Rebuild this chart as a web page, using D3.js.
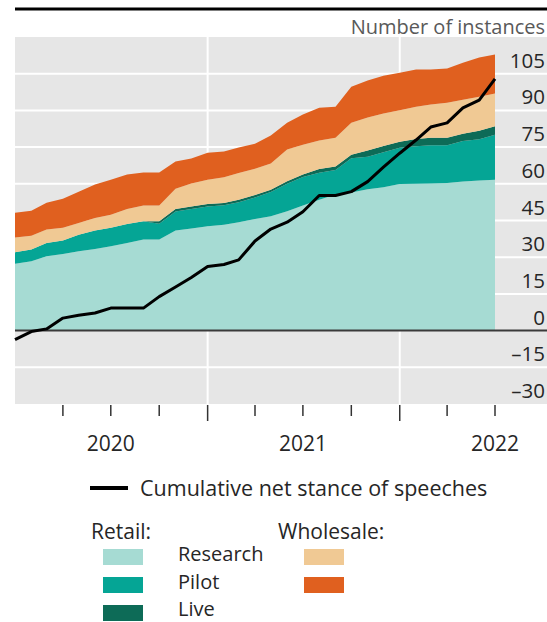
<!DOCTYPE html>
<html>
<head>
<meta charset="utf-8">
<script src="https://cdn.jsdelivr.net/npm/d3@7"></script>
<style>
  html, body { margin: 0; padding: 0; background: #fff; }
  svg { display: block; font-family: "Open Sans", "Noto Sans", sans-serif; }
</style>
</head>
<body>
<svg id="chart" width="547" height="622"></svg>
<script>
// ---- data (monthly, Jan 2020 – Jul 2022) ----
const months = ["2020-01","2020-02","2020-03","2020-04","2020-05","2020-06","2020-07","2020-08","2020-09","2020-10","2020-11","2020-12",
  "2021-01","2021-02","2021-03","2021-04","2021-05","2021-06","2021-07","2021-08","2021-09","2021-10","2021-11","2021-12",
  "2022-01","2022-02","2022-03","2022-04","2022-05","2022-06","2022-07"];
const retailResearch = [27.3,28.3,30.4,31.3,32.4,33.4,34.5,35.8,37.2,37.2,40.9,41.7,42.7,43.3,44.3,45.6,46.7,48.8,51.1,53.5,55.6,56.4,57.8,58.6,59.9,60.0,60.1,60.3,60.9,61.3,61.7];
const retailPilot    = [4.7,4.8,5.4,5.5,6.8,7.5,7.5,7.8,7.5,6.5,7.8,8.0,8.0,7.9,8.2,8.8,9.9,11.2,11.7,11.0,10.0,14.0,13.3,14.3,14.8,15.3,15.7,15.5,16.6,16.9,18.3];
const retailLive     = [0,0,0,0,0,0,0,0,0,1,1,1,1,1,1,1,1,1,1,1.5,1.5,1.5,2.5,2.5,2.5,3,3,3,3,3.5,3.5];
const wholesaleResearch = [6.1,5.7,5.5,5.2,4.8,5.1,5.4,6.1,6.4,6.4,8.3,9.4,10.0,10.5,10.9,10.8,10.7,13.0,12.2,11.7,11.7,13.1,13.5,13.3,12.9,13.2,13.6,14.3,13.9,13.9,13.4];
const wholesalePilot    = [10.1,10.2,11.0,11.9,12.8,13.7,14.3,14.1,13.5,13.5,11.1,10.2,11.0,10.5,10.4,10.2,11.4,11.0,12.3,13.4,12.7,14.7,15.1,15.5,15.3,15.2,14.3,14.0,15.1,16.0,15.9];
const netStance = [-3.7,-0.4,0.7,5.1,6.3,7.2,9.2,9.2,9.2,13.9,17.8,21.7,26.2,27.0,28.9,36.6,41.5,44.3,48.6,55.2,55.2,56.8,60.9,66.8,72.5,77.9,83.2,84.9,91.0,94.2,102.9];
const yTicks = [-30,-15,0,15,30,45,60,75,90,105];
const yearLabels = ["2020","2021","2022"];
const yearLabelDates = ["2020-07-01","2021-07-01","2022-07-01"];
const yearBoundaries = ["2021-01-01","2022-01-01"];
const quarterTicks = ["2020-04-01","2020-07-01","2020-10-01","2021-01-01","2021-04-01","2021-07-01","2021-10-01","2022-01-01","2022-04-01","2022-07-01"];
const seriesKeys = ["retailResearch","retailPilot","retailLive","wholesaleResearch","wholesalePilot"];
const seriesColors = ["#a6dbd3","#05a595","#0d6b57","#f0c994","#e0601f"];

// ---- build table ----
const parse = d3.timeParse("%Y-%m");
const parseDay = d3.timeParse("%Y-%m-%d");
const table = months.map((m, i) => ({
  date: parse(m),
  retailResearch: retailResearch[i],
  retailPilot: retailPilot[i],
  retailLive: retailLive[i],
  wholesaleResearch: wholesaleResearch[i],
  wholesalePilot: wholesalePilot[i],
  net: netStance[i]
}));

const svg = d3.select("#chart");
const plotL = 15, plotR = 495, bgR = 547, plotT = 37, plotB = 404;
const txt = "#262626";

const x = d3.scaleTime().domain([parseDay("2020-01-01"), parseDay("2022-07-01")]).range([plotL, plotR]);
const y = d3.scaleLinear().domain([-30, 120]).range([plotB, plotT]);

// background
svg.append("rect").attr("x", plotL).attr("y", plotT).attr("width", bgR - plotL).attr("height", plotB - plotT).attr("fill", "#e6e6e6");

// gridlines horizontal
svg.append("g").selectAll("line").data(yTicks.filter(v => v !== 0 && v !== -30)).join("line")
  .attr("x1", plotL).attr("x2", bgR).attr("y1", d => y(d)).attr("y2", d => y(d))
  .attr("stroke", "#fff").attr("stroke-width", 2);
// vertical year boundaries
svg.append("g").selectAll("line").data(yearBoundaries).join("line")
  .attr("x1", d => x(parseDay(d))).attr("x2", d => x(parseDay(d)))
  .attr("y1", plotT).attr("y2", plotB)
  .attr("stroke", "#fff").attr("stroke-width", 2);

// stacked areas
const stack = d3.stack().keys(seriesKeys);
const layers = stack(table);
const area = d3.area().x(d => x(d.data.date)).y0(d => y(d[0])).y1(d => y(d[1]));
svg.append("g").selectAll("path").data(layers).join("path")
  .attr("d", area).attr("fill", (d, i) => seriesColors[i]);

// zero line
svg.append("line").attr("x1", plotL).attr("x2", bgR).attr("y1", y(0)).attr("y2", y(0))
  .attr("stroke", "#3a3a3a").attr("stroke-width", 2);

// net stance line
const line = d3.line().x(d => x(d.date)).y(d => y(d.net));
svg.append("path").datum(table).attr("d", line)
  .attr("fill", "none").attr("stroke", "#000").attr("stroke-width", 3).attr("stroke-linejoin", "round");

// y labels
svg.append("g").selectAll("text").data(yTicks).join("text")
  .attr("x", 545).attr("y", d => y(d) - 6).attr("text-anchor", "end")
  .attr("font-size", 20.5).attr("fill", txt)
  .text(d => d < 0 ? "\u2013" + Math.abs(d) : d);

// unit label
svg.append("text").attr("x", 545).attr("y", 34).attr("text-anchor", "end")
  .attr("font-size", 20).attr("fill", "#595959").text("Number of instances");

// top rule
svg.append("line").attr("x1", 15).attr("x2", 547).attr("y1", 9).attr("y2", 9)
  .attr("stroke", "#000").attr("stroke-width", 3);

// x ticks
svg.append("g").selectAll("line").data(quarterTicks).join("line")
  .attr("x1", d => x(parseDay(d))).attr("x2", d => x(parseDay(d)))
  .attr("y1", plotB + 1)
  .attr("y2", d => yearBoundaries.includes(d) ? plotB + 17 : plotB + 12)
  .attr("stroke", "#333").attr("stroke-width", 1.5);

// year labels
svg.append("g").selectAll("text").data(yearLabels).join("text")
  .attr("x", (d, i) => x(parseDay(yearLabelDates[i]))).attr("y", 451)
  .attr("text-anchor", "middle").attr("font-size", 21).attr("fill", txt).text(d => d);

// legend
svg.append("line").attr("x1", 90).attr("x2", 128).attr("y1", 488).attr("y2", 488)
  .attr("stroke", "#000").attr("stroke-width", 4);
svg.append("text").attr("x", 140).attr("y", 496).attr("font-size", 21.5).attr("fill", txt)
  .text("Cumulative net stance of speeches");

svg.append("text").attr("x", 91).attr("y", 539).attr("font-size", 21).attr("fill", txt).text("Retail:");
svg.append("text").attr("x", 278).attr("y", 539).attr("font-size", 21).attr("fill", txt).text("Wholesale:");

const legRows = [
  {label: "Research", retail: seriesColors[0], wholesale: seriesColors[3]},
  {label: "Pilot", retail: seriesColors[1], wholesale: seriesColors[4]},
  {label: "Live", retail: seriesColors[2], wholesale: null}
];
const rowY = [557, 585, 613];
const labelBase = [561, 589, 616];
const lg = svg.append("g");
legRows.forEach((r, i) => {
  lg.append("rect").attr("x", 103).attr("y", rowY[i] - 8).attr("width", 40).attr("height", 16).attr("fill", r.retail);
  if (r.wholesale) lg.append("rect").attr("x", 304).attr("y", rowY[i] - 8).attr("width", 40).attr("height", 16).attr("fill", r.wholesale);
  lg.append("text").attr("x", 178).attr("y", labelBase[i]).attr("font-size", 20).attr("fill", txt).text(r.label);
});
</script>
</body>
</html>
